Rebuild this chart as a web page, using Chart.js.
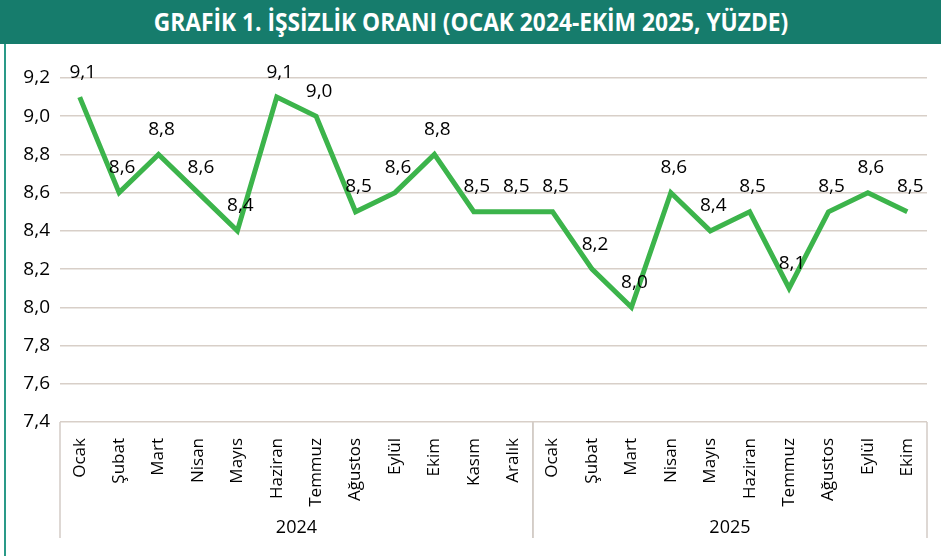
<!DOCTYPE html>
<html>
<head>
<meta charset="utf-8">
<script src="https://cdn.jsdelivr.net/npm/chart.js@4"></script>
<style>
  body { margin: 0; background: #fff; width: 941px; height: 556px; overflow: hidden; position: relative; font-family: "Open Sans", sans-serif; }
  #title { position: absolute; left: 0; top: 0; width: 941px; height: 44px; background: #167c6c; color: #fff; }
  #title span { position: absolute; left: 50%; top: 6px; white-space: nowrap; font-weight: bold; font-size: 25px; line-height: 30px; transform: translateX(-50%) scaleX(0.91); }
  #border { position: absolute; left: 4px; top: 44px; width: 2px; height: 512px; background: #2a9a88; }
  #wrap { position: absolute; left: 0; top: 44px; width: 941px; height: 512px; }
</style>
</head>
<body>
<div id="title"><span>GRAFİK 1. İŞSİZLİK ORANI (OCAK 2024-EKİM 2025, YÜZDE)</span></div>
<div id="border"></div>
<div id="wrap"><canvas id="myChart"></canvas></div>
<script>
const months = ['Ocak', 'Şubat', 'Mart', 'Nisan', 'Mayıs', 'Haziran', 'Temmuz', 'Ağustos', 'Eylül', 'Ekim', 'Kasım', 'Aralık',
  'Ocak', 'Şubat', 'Mart', 'Nisan', 'Mayıs', 'Haziran', 'Temmuz', 'Ağustos', 'Eylül', 'Ekim'];
const years = ['2024', '2025'];
const yearCounts = [12, 10];
const rates = [9.1, 8.6, 8.8, 8.6, 8.4, 9.1, 9.0, 8.5, 8.6, 8.8, 8.5, 8.5,
  8.5, 8.2, 8.0, 8.6, 8.4, 8.5, 8.1, 8.5, 8.6, 8.5];

const fmt = (v) => Number(v).toFixed(1).replace('.', ',');

// value labels above each point
const pointLabels = {
  id: 'pointLabels',
  afterDatasetsDraw(chart) {
    const { ctx } = chart;
    const meta = chart.getDatasetMeta(0);
    ctx.save();
    ctx.font = '19px "Open Sans"';
    ctx.fillStyle = '#000';
    ctx.textAlign = 'center';
    ctx.textBaseline = 'middle';
    meta.data.forEach((pt, i) => {
      ctx.fillText(fmt(rates[i]), pt.x + 3, pt.y - 25);
    });
    ctx.restore();
  }
};

// year groups under month labels
const yearGroups = {
  id: 'yearGroups',
  afterDraw(chart) {
    const { ctx, chartArea } = chart;
    const x = chart.scales.x;
    const step = x.getPixelForValue(1) - x.getPixelForValue(0);
    const bottom = chartArea.bottom + 116;
    ctx.save();
    ctx.strokeStyle = '#d3ccc6';
    ctx.lineWidth = 1.5;
    ctx.font = '18px "Open Sans"';
    ctx.fillStyle = '#000';
    ctx.textAlign = 'center';
    ctx.textBaseline = 'middle';
    let start = 0;
    const edge = (i) => x.getPixelForValue(i) - step / 2;
    years.forEach((yr, k) => {
      const end = start + yearCounts[k];
      const x0 = edge(start);
      const x1 = edge(end);
      ctx.beginPath();
      ctx.moveTo(x0, chartArea.bottom);
      ctx.lineTo(x0, bottom);
      ctx.moveTo(x1, chartArea.bottom);
      ctx.lineTo(x1, bottom);
      ctx.stroke();
      ctx.fillText(yr, (x0 + x1) / 2, bottom - 10);
      start = end;
    });
    ctx.restore();
  }
};

const ctx = document.getElementById('myChart');
// eslint-disable-next-line no-new
new Chart(ctx, {
  type: 'line',
  data: {
    labels: months,
    datasets: [{
      data: rates,
      borderColor: '#3cb44b',
      borderWidth: 5,
      pointRadius: 0,
      tension: 0,
      borderJoinStyle: 'miter',
    }]
  },
  options: {
    responsive: true,
    maintainAspectRatio: false,
    animation: false,
    layout: { padding: { top: 34, right: 14, bottom: 18, left: 0 } },
    plugins: { legend: { display: false }, tooltip: { enabled: false } },
    scales: {
      x: {
        offset: true,
        grid: { display: false },
        border: { display: false },
        ticks: {
          autoSkip: false,
          minRotation: 90,
          maxRotation: 90,
          padding: 8,
          color: '#000',
          font: { family: 'Open Sans', size: 17 },
        },
        afterFit: (scale) => { scale.height = 116; },
      },
      y: {
        min: 7.4,
        max: 9.2,
        grid: { color: '#d8cfc8', lineWidth: 1.5, drawTicks: false },
        border: { display: false },
        ticks: {
          stepSize: 0.2,
          padding: 10,
          color: '#000',
          font: { family: 'Open Sans', size: 19 },
          callback: (v) => fmt(v),
        },
        afterFit: (scale) => { scale.width = 60; },
      }
    }
  },
  plugins: [pointLabels, yearGroups]
});
</script>
</body>
</html>
